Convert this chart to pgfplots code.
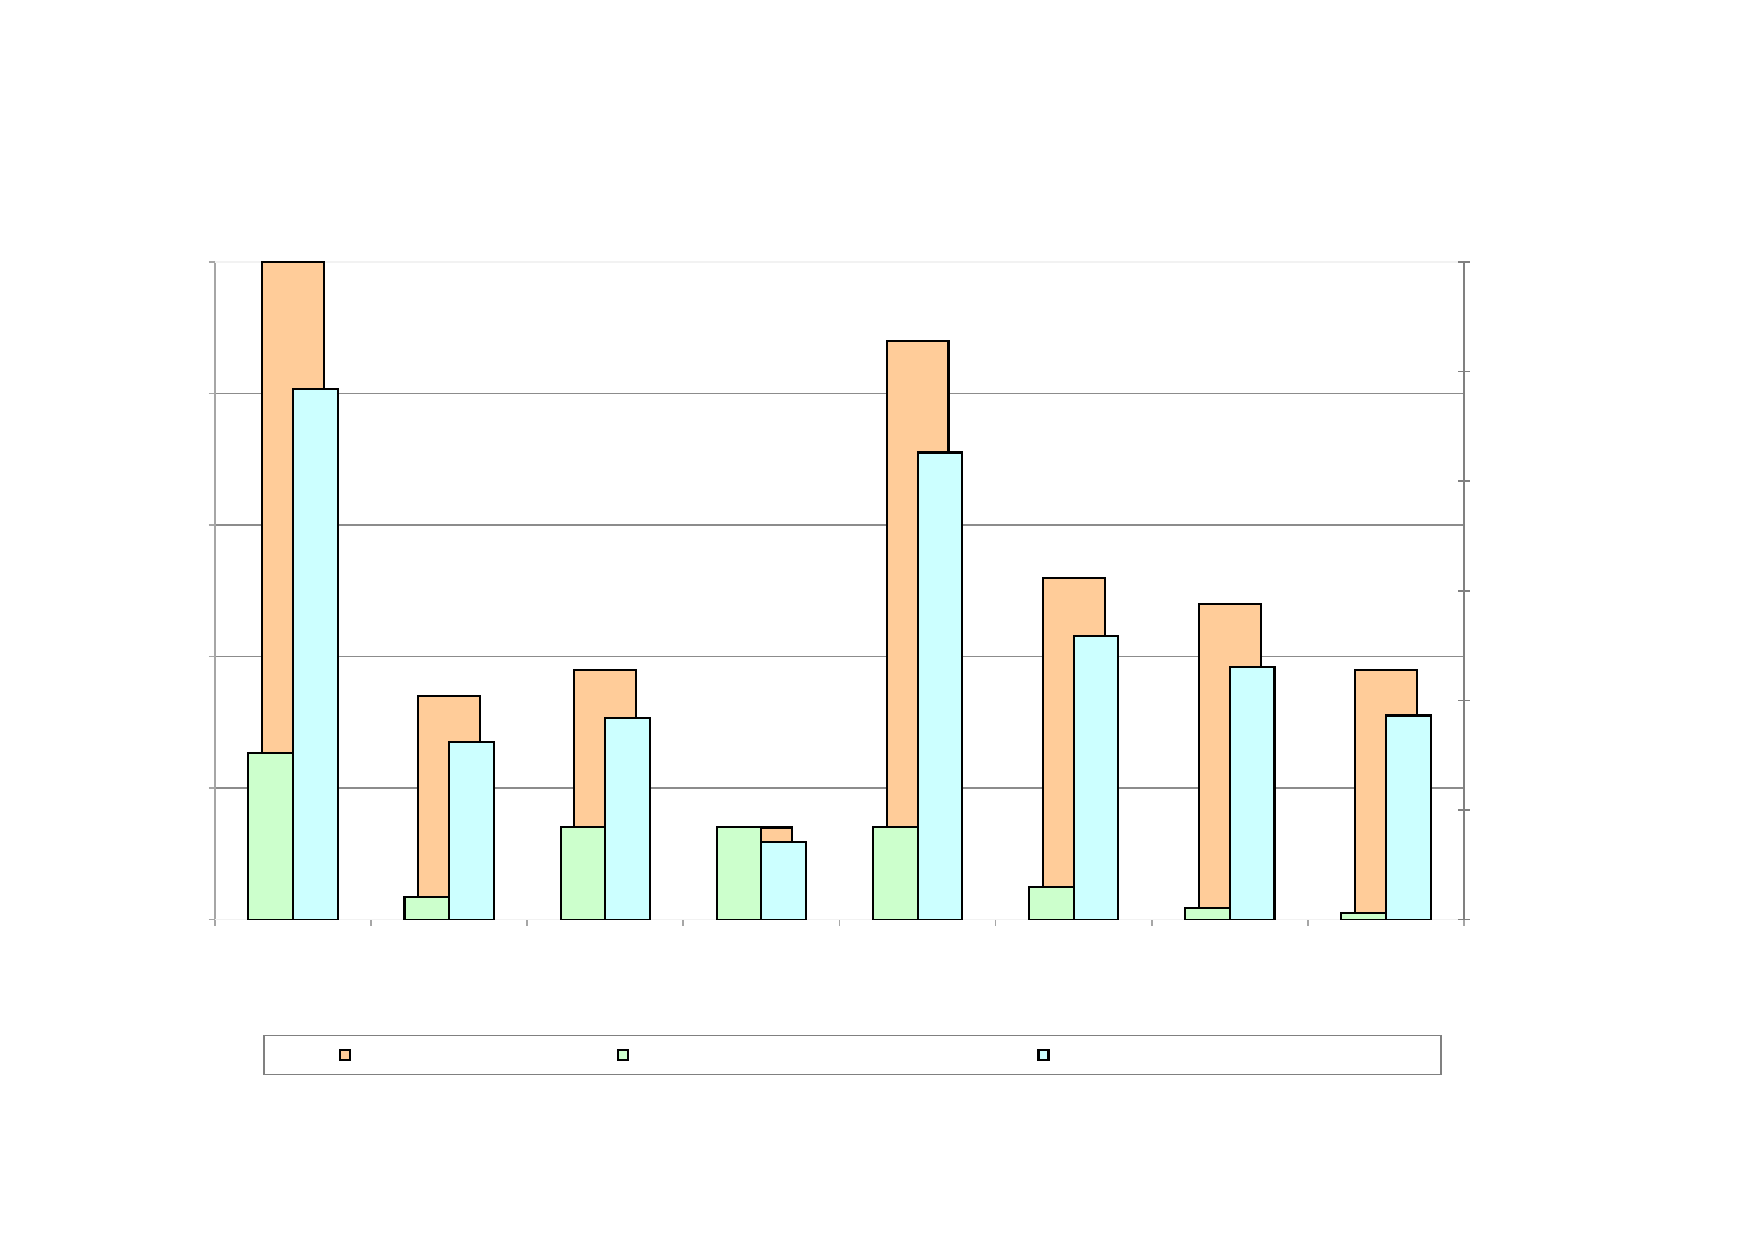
\documentclass[border=0pt]{standalone}
\usepackage{pgfplots}
\pgfplotsset{compat=1.18}
\definecolor{cOrange}{HTML}{FFCC99}
\definecolor{cGreen}{HTML}{CCFFCC}
\definecolor{cCyan}{HTML}{CCFFFF}
\definecolor{gridgray}{HTML}{8C8C8C}
\definecolor{axgray}{HTML}{A6A6A6}
\definecolor{raxgray}{HTML}{808080}
\pgfplotsset{sqlegend/.style={legend image code/.code={\draw[##1] (0mm,-0.5mm) rectangle (1mm,0.5mm);}}}
\begin{document}
\begin{tikzpicture}
\fill[white,use as bounding box] (-21.5mm,-31.94mm) rectangle (153.9mm,91.96mm);
\begin{axis}[
 at={(0,0)}, anchor=south west,
 scale only axis, width=124.9mm, height=65.76mm,
 xmin=0.5, xmax=8.5, ymin=0, ymax=5,
 axis x line*=bottom, axis y line*=left,
 xtick={0.5,1.5,...,8.5}, xticklabels={},
 ytick={1,2,3,4}, yticklabels={},
 extra y ticks={0,5}, extra y tick labels={},
 extra y tick style={grid=major, grid style={white!95!black}},
 ymajorgrids, grid style={gridgray, line width=0.5pt},
 tick align=outside, major tick length=0.6mm,
 tick style={axgray, line width=0.5pt},
 x axis line style={raxgray, line width=0.5pt, -},
 y axis line style={axgray, line width=0.5pt, -},
]
\addplot[ybar, bar width=0.397, bar shift=0, fill=cOrange, draw=black, line width=0.6pt]
 coordinates {(1,5.0) (2,1.70) (3,1.90) (4,0.70) (5,4.40) (6,2.60) (7,2.40) (8,1.90)};
\end{axis}
\begin{axis}[
 at={(0,0)}, anchor=south west,
 scale only axis, width=124.9mm, height=65.76mm,
 xmin=0.5, xmax=8.5, ymin=0, ymax=6,
 axis x line=none, axis y line*=right,
 ytick={0,...,6}, yticklabels={},
 tick align=center, major tick length=1.2mm,
 ytick style={raxgray, line width=0.5pt},
 y axis line style={raxgray, line width=0.5pt, -},
 legend columns=3,
 legend style={at={(0.0384,-0.1749)}, anchor=north west, inner xsep=7.54mm, inner ysep=0pt,
   draw=gray, line width=0.5pt, fill=white,
   nodes={inner sep=0pt, text depth=0pt},
   /tikz/every even column/.style={column sep=0pt}},
]
\addlegendimage{sqlegend, fill=cOrange, draw=black, line width=0.6pt}
\addlegendentry{\rule{0pt}{3.9mm}\hspace*{26.6mm}}
\addplot[ybar, bar width=0.286, bar shift=-0.143, fill=cGreen, draw=black, line width=0.6pt, sqlegend]
 coordinates {(1,1.524) (2,0.204) (3,0.847) (4,0.847) (5,0.847) (6,0.301) (7,0.102) (8,0.061)};
\addlegendentry{\rule{0pt}{3.9mm}\hspace*{40.8mm}}
\addplot[ybar, bar width=0.286, bar shift=0.143, fill=cCyan, draw=black, line width=0.6pt, sqlegend]
 coordinates {(1,4.84) (2,1.62) (3,1.842) (4,0.704) (5,4.262) (6,2.584) (7,2.302) (8,1.862)};
\addlegendentry{\rule{0pt}{3.9mm}\hspace*{31.6mm}}
\end{axis}
\end{tikzpicture}
\end{document}
